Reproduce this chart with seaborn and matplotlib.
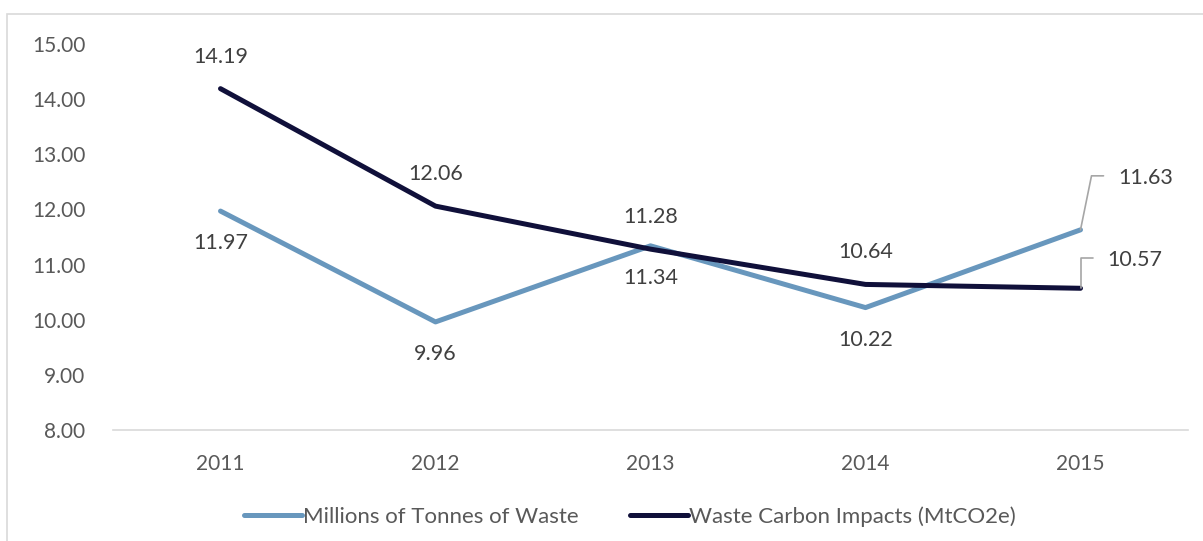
import pandas as pd
import numpy as np
import matplotlib.pyplot as plt
import matplotlib.transforms as mtrans
from matplotlib.patches import Rectangle
import seaborn as sns

years = [2011, 2012, 2013, 2014, 2015]
waste = [11.97, 9.96, 11.34, 10.22, 11.63]
carbon = [14.19, 12.06, 11.28, 10.64, 10.57]
series_names = ['Millions of Tonnes of Waste', 'Waste Carbon Impacts (MtCO2e)']
colors = ['#6897BD', '#10103A']

df = pd.DataFrame({
    'year': years * 2,
    'value': waste + carbon,
    'series': [series_names[0]] * 5 + [series_names[1]] * 5,
})

sns.set_style('white')
plt.rcParams['font.family'] = ['Lato', 'DejaVu Sans']

fig = plt.figure(figsize=(12.03, 5.41), dpi=100)
ax = fig.add_axes([113 / 1203, 1 - 430 / 541, (1188 - 113) / 1203, (430 - 44) / 541])

sns.lineplot(data=df, x='year', y='value', hue='series', palette=colors,
             linewidth=3.6, ax=ax, legend=True, solid_capstyle='round')

ax.set_xlim(2010.5, 2015.5)
ax.set_ylim(8, 15)
ax.set_xticks(years)
ax.set_xticklabels([str(y) for y in years])
ax.set_yticks(np.arange(8, 15.01, 1))
ax.set_yticklabels([f'{v:.2f}' for v in np.arange(8, 15.01, 1)])
ax.tick_params(axis='both', length=0, labelsize=15, labelcolor='#595959')
ax.tick_params(axis='y', pad=20)
ax.tick_params(axis='x', pad=17)
ax.set_xlabel('')
ax.set_ylabel('')
for s in ['top', 'right', 'left']:
    ax.spines[s].set_visible(False)
ax.spines['bottom'].set_color('#D9D9D9')
ax.spines['bottom'].set_linewidth(1.2)
ax.patch.set_alpha(0)

txt = dict(fontsize=15.5, color='#404040', ha='center', va='center')
# labels for first four years: carbon above, waste below
for i in range(4):
    ax.annotate(f'{carbon[i]:.2f}', (years[i], carbon[i]), xytext=(0, 23),
                textcoords='offset points', **txt)
    ax.annotate(f'{waste[i]:.2f}', (years[i], waste[i]), xytext=(0, -23),
                textcoords='offset points', **txt)

# 2015 labels with leader lines (pixel offsets from the point)
fig.canvas.draw()
ident = mtrans.IdentityTransform()
for val, path, lab in [
    (waste[4], [(0, 0), (11, 54), (23, 54)], (65, 52)),
    (carbon[4], [(0, 0), (0, 30), (12, 30)], (54, 28)),
]:
    px, py = ax.transData.transform((years[4], val))
    xs = [px + dx for dx, dy in path]
    ys = [py + dy for dx, dy in path]
    fig.lines.append(plt.Line2D(xs, ys, transform=ident, color='#A6A6A6', lw=1.2))
    fig.text(px + lab[0], py + lab[1], f'{val:.2f}', transform=ident, **txt)

leg = ax.legend(loc='center', bbox_to_anchor=(0.481, -0.225), ncol=2, frameon=False,
                fontsize=16, handlelength=2.6, handletextpad=0.05, columnspacing=2.3)
for t in leg.get_texts():
    t.set_color('#595959')

# outer chart frame
fig.patches.append(Rectangle((7 / 1203, -0.1), 1.2, 1 - 14 / 541 + 0.1,
                             transform=fig.transFigure, fill=False,
                             edgecolor='#D9D9D9', lw=1.2))

fig.savefig('out.png', dpi=100)
